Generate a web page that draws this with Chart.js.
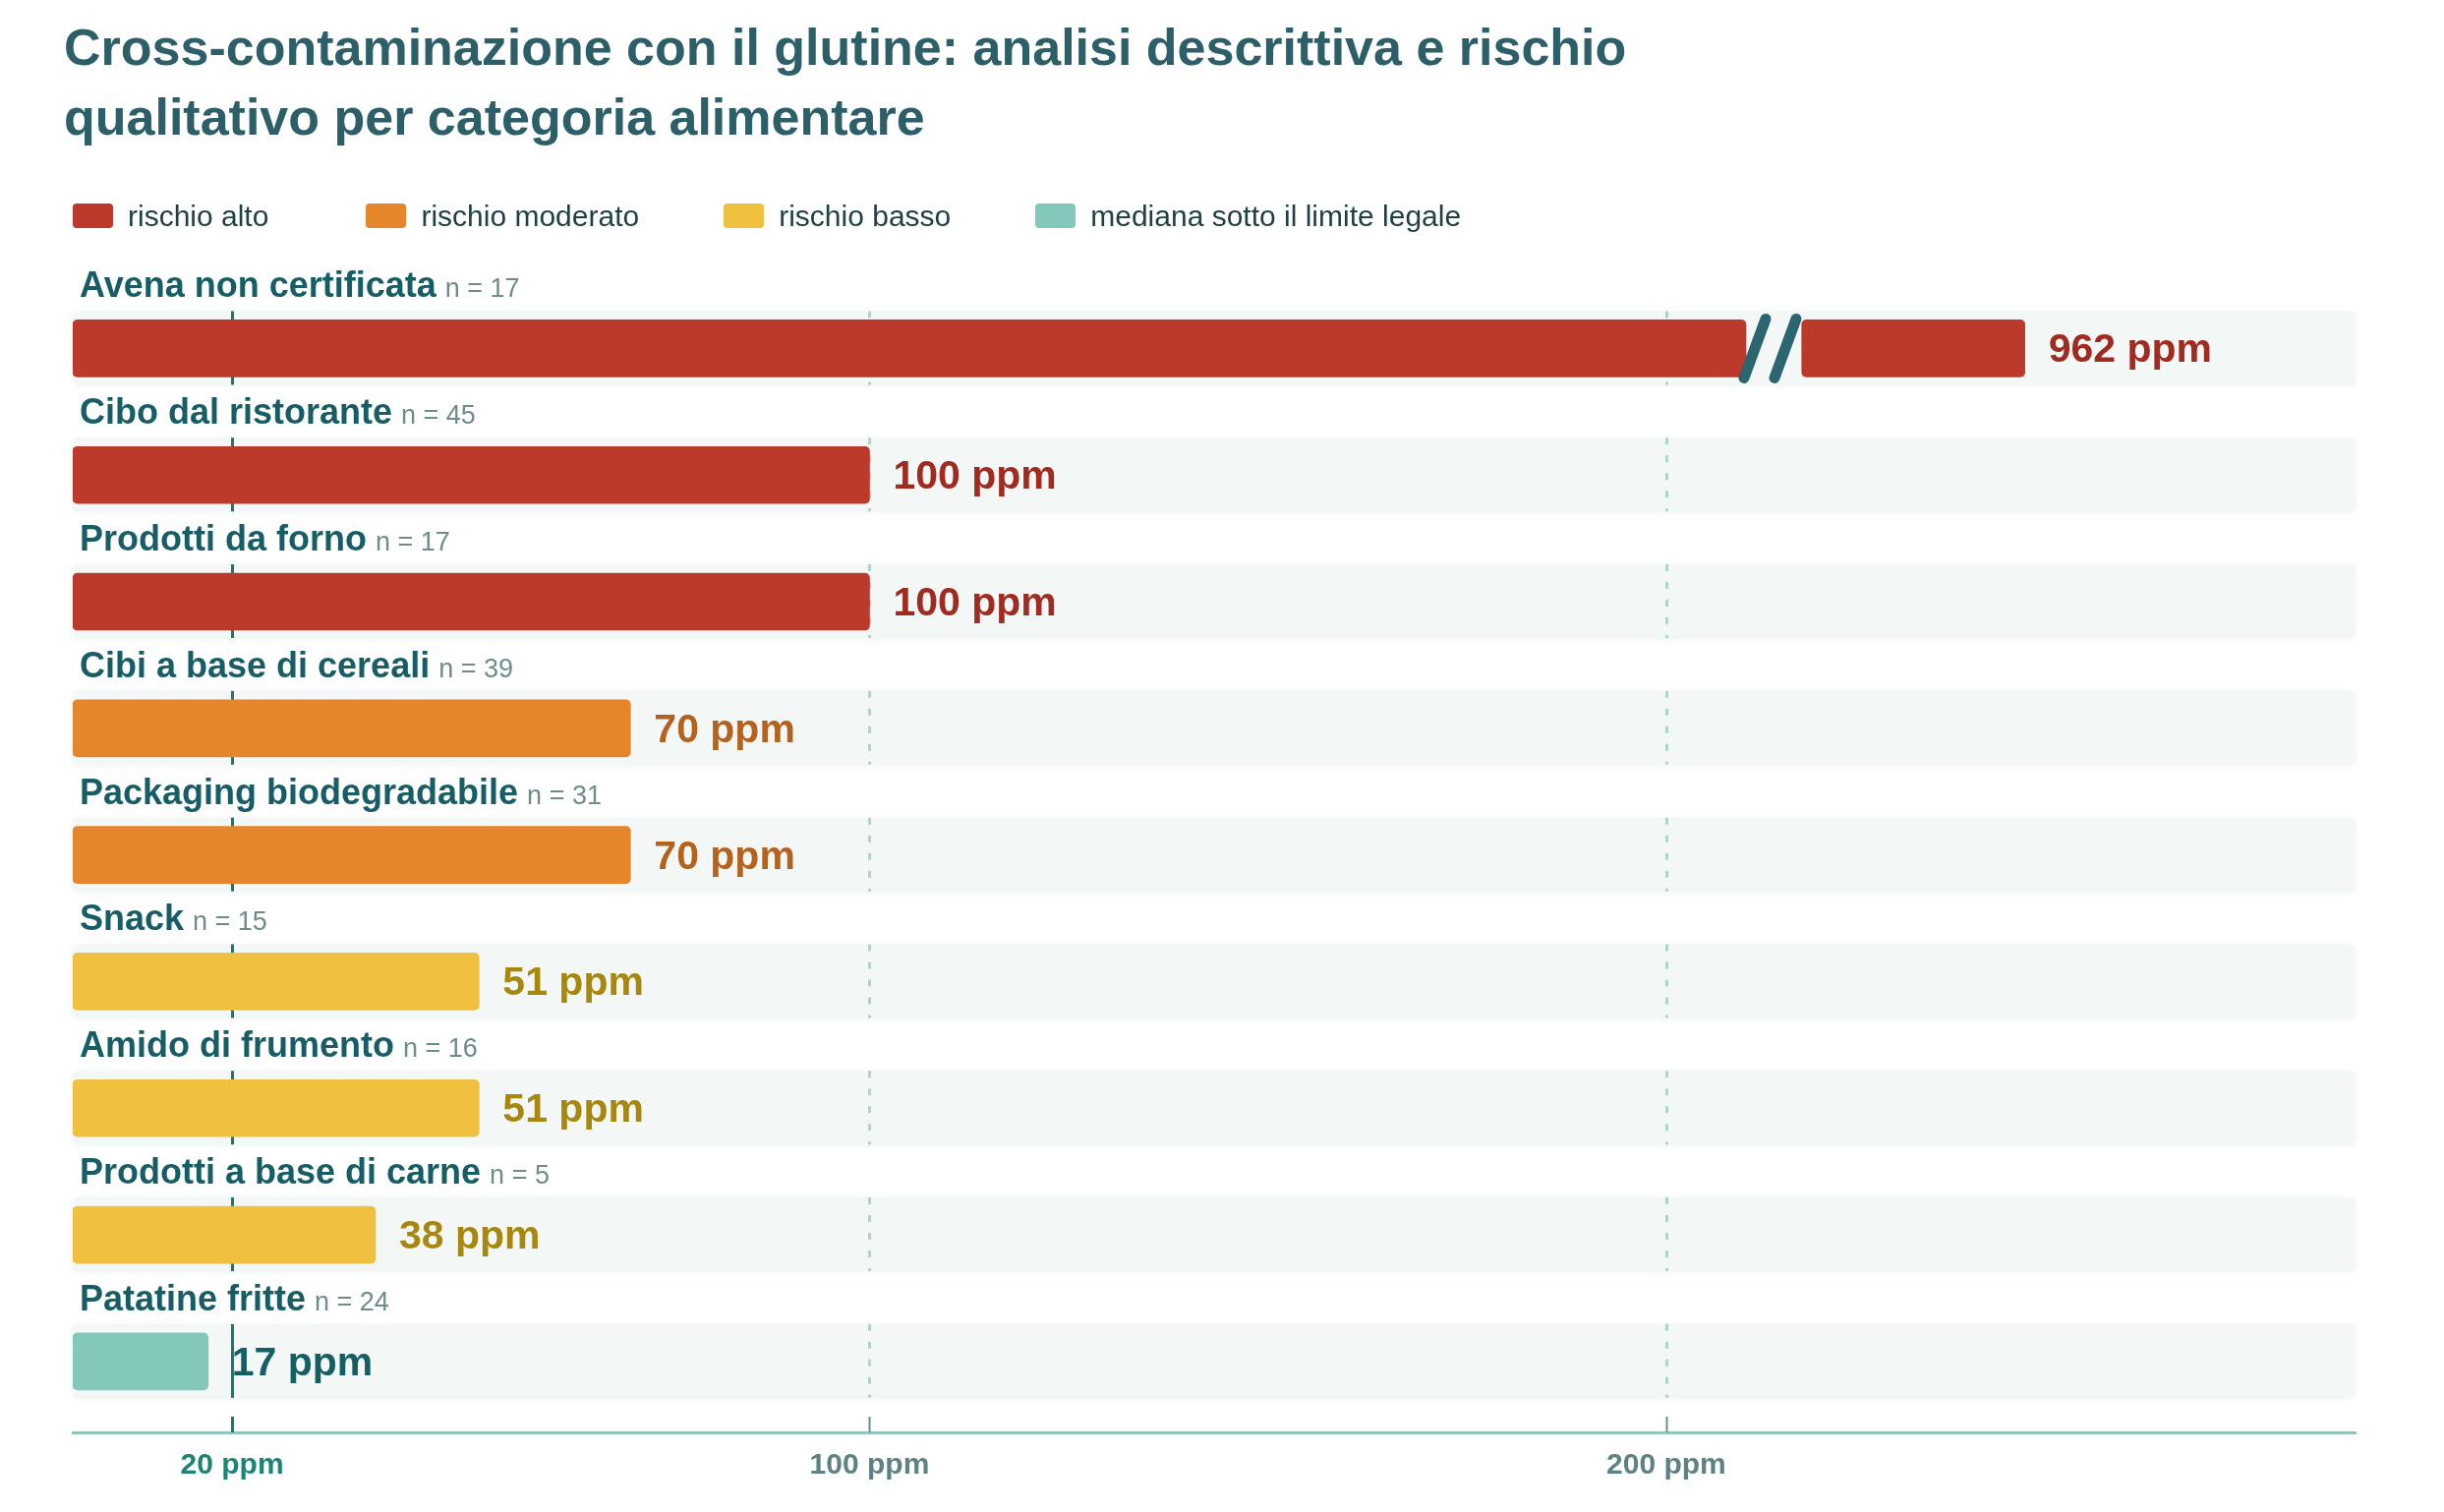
<!DOCTYPE html>
<html lang="it">
<head>
<meta charset="utf-8">
<title>Cross-contaminazione con il glutine</title>
<script src="https://cdn.jsdelivr.net/npm/chart.js@4.4.1/dist/chart.umd.min.js"></script>
<style>
    html, body {
        margin: 0;
        padding: 0;
        background: #ffffff;
    }
    body {
        width: 2486px;
        height: 1538px;
        position: relative;
        overflow: hidden;
        font-family: "Liberation Sans", Arial, sans-serif;
    }
    #title {
        position: absolute;
        left: 65px;
        top: 13px;
        margin: 0;
        font-size: 52px;
        line-height: 71px;
        font-weight: bold;
        color: #2d5f69;
        z-index: 2;
    }
    #legend {
        position: absolute;
        left: 74px;
        top: 207px;
        display: flex;
        align-items: center;
        z-index: 2;
    }
    .legend-item {
        display: flex;
        align-items: center;
        margin-right: 86px;
    }
    .legend-item:first-child {
        margin-right: 99px;
    }
    .legend-box {
        width: 41px;
        height: 25px;
        border-radius: 4px;
        margin-right: 15px;
    }
    .legend-text {
        font-size: 30px;
        line-height: 25px;
        color: #1f4047;
    }
    #chart {
        position: absolute;
        left: 0;
        top: 0;
    }
</style>
</head>
<body>
<h1 id="title">Cross-contaminazione con il glutine: analisi descrittiva e rischio<br>qualitativo per categoria alimentare</h1>
<div id="legend"></div>
<canvas id="chart" width="2486" height="1538"></canvas>

<script>
// dati
const categories = [
    'Avena non certificata',
    'Cibo dal ristorante',
    'Prodotti da forno',
    'Cibi a base di cereali',
    'Packaging biodegradabile',
    'Snack',
    'Amido di frumento',
    'Prodotti a base di carne',
    'Patatine fritte'
];
const sampleSizes = [17, 45, 17, 39, 31, 15, 16, 5, 24];
const medianPpm = [962, 100, 100, 70, 70, 51, 51, 38, 17];
const riskLevel = [0, 0, 0, 1, 1, 2, 2, 2, 3];

const riskLabels = ['rischio alto', 'rischio moderato', 'rischio basso', 'mediana sotto il limite legale'];
const riskColors = ['#bc3a2c', '#e5862c', '#efc13f', '#84c7bb'];
const riskTextColors = ['#9f2b21', '#b5621f', '#a8870f', '#135f64'];

const xTicks = [20, 100, 200];
const LEGAL_LIMIT = 20;

// asse interrotto: i valori oltre il massimo vengono disegnati con una barra spezzata
const AXIS_MAX = 286.5;
const BREAK_FROM = 210;
const BREAK_TO = 217;
const BREAK_BAR_END = 245;

// legenda
const legend = document.getElementById('legend');
riskLabels.forEach(function (label, i) {
    const item = document.createElement('div');
    item.className = 'legend-item';
    const box = document.createElement('span');
    box.className = 'legend-box';
    box.style.background = riskColors[i];
    const text = document.createElement('span');
    text.className = 'legend-text';
    text.textContent = label;
    item.appendChild(box);
    item.appendChild(text);
    legend.appendChild(item);
});

function isBroken(v) {
    return v > AXIS_MAX;
}

function drawnEnd(v) {
    return isBroken(v) ? BREAK_BAR_END : v;
}

const mainBars = medianPpm.map(function (v, i) {
    return {y: i, x: [0, isBroken(v) ? BREAK_FROM : v]};
});
const tailBars = medianPpm.flatMap(function (v, i) {
    return isBroken(v) ? [{y: i, x: [BREAK_TO, BREAK_BAR_END]}] : [];
});

function barColor(ctx) {
    return riskColors[riskLevel[ctx.raw.y]];
}

// fasce di sfondo + griglia dentro le fasce
const bandsPlugin = {
    id: 'bands',
    beforeDatasetsDraw(chart) {
        const {ctx, chartArea, scales: {x, y}} = chart;
        ctx.save();
        categories.forEach(function (c, i) {
            const cy = y.getPixelForValue(i);
            const top = cy - 38;
            const h = 75;

            ctx.save();
            ctx.shadowColor = 'rgba(40, 80, 80, 0.07)';
            ctx.shadowBlur = 6;
            ctx.shadowOffsetY = 1;
            ctx.fillStyle = '#f3f8f7';
            ctx.beginPath();
            ctx.roundRect(chartArea.left, top, chartArea.right - chartArea.left, h, 6);
            ctx.fill();
            ctx.restore();

            xTicks.forEach(function (t) {
                const px = Math.round(x.getPixelForValue(t)) + 0.5;
                ctx.beginPath();
                if (t === LEGAL_LIMIT) {
                    ctx.setLineDash([]);
                    ctx.strokeStyle = '#167a71';
                    ctx.lineWidth = 3;
                } else {
                    ctx.setLineDash([7, 11]);
                    ctx.strokeStyle = '#aed5cb';
                    ctx.lineWidth = 3;
                }
                ctx.moveTo(px, top);
                ctx.lineTo(px, top + h);
                ctx.stroke();
            });
        });

        // tacche sopra l'asse
        ctx.setLineDash([]);
        xTicks.forEach(function (t) {
            const px = Math.round(x.getPixelForValue(t)) + 0.5;
            ctx.beginPath();
            ctx.strokeStyle = t === LEGAL_LIMIT ? '#167a71' : '#6b8c8f';
            ctx.lineWidth = t === LEGAL_LIMIT ? 3 : 2;
            ctx.moveTo(px, chartArea.bottom - 16);
            ctx.lineTo(px, chartArea.bottom);
            ctx.stroke();
        });
        ctx.restore();
    }
};

// etichette di categoria, valori e segno di interruzione
const labelsPlugin = {
    id: 'rowLabels',
    afterDatasetsDraw(chart) {
        const {ctx, chartArea, scales: {x, y}} = chart;
        ctx.save();
        categories.forEach(function (c, i) {
            const cy = y.getPixelForValue(i);

            // nome categoria + n
            ctx.textBaseline = 'alphabetic';
            ctx.textAlign = 'left';
            ctx.font = 'bold 36px "Liberation Sans", Arial, sans-serif';
            ctx.fillStyle = '#175d65';
            ctx.fillText(c, chartArea.left + 7, cy - 52);
            const w = ctx.measureText(c).width;
            ctx.font = '27px "Liberation Sans", Arial, sans-serif';
            ctx.fillStyle = '#6f8b8c';
            ctx.fillText('n = ' + sampleSizes[i], chartArea.left + 7 + w + 9, cy - 52);

            // valore
            const v = medianPpm[i];
            ctx.font = 'bold 41px "Liberation Sans", Arial, sans-serif';
            ctx.fillStyle = riskTextColors[riskLevel[i]];
            ctx.fillText(v + ' ppm', x.getPixelForValue(drawnEnd(v)) + 24, cy + 14);

            // interruzione
            if (isBroken(v)) {
                const x0 = x.getPixelForValue(BREAK_FROM);
                ctx.strokeStyle = '#2b6570';
                ctx.lineWidth = 11;
                ctx.lineCap = 'round';
                [9, 40].forEach(function (off) {
                    ctx.beginPath();
                    ctx.moveTo(x0 + off - 11, cy + 30);
                    ctx.lineTo(x0 + off + 11, cy - 30);
                    ctx.stroke();
                });
            }
        });
        ctx.restore();
    }
};

const chart = new Chart(document.getElementById('chart'), {
    type: 'bar',
    data: {
        labels: categories,
        datasets: [
            {
                label: 'mediana',
                data: mainBars,
                backgroundColor: barColor,
                borderRadius: 5,
                borderSkipped: false,
                barThickness: 58,
                grouped: false
            },
            {
                label: 'mediana (oltre interruzione)',
                data: tailBars,
                backgroundColor: barColor,
                borderRadius: 5,
                borderSkipped: false,
                barThickness: 58,
                grouped: false
            }
        ]
    },
    options: {
        indexAxis: 'y',
        responsive: false,
        animation: false,
        devicePixelRatio: 1,
        layout: {
            padding: {top: 238.5, left: 74, right: 90, bottom: 13}
        },
        plugins: {
            legend: {display: false},
            tooltip: {enabled: false}
        },
        scales: {
            y: {
                type: 'linear',
                min: -0.9,
                max: 8.56,
                reverse: true,
                offset: false,
                display: false
            },
            x: {
                type: 'linear',
                position: 'bottom',
                min: 0,
                max: AXIS_MAX,
                offset: false,
                afterBuildTicks: function (scale) {
                    scale.ticks = xTicks.map(function (v) { return {value: v}; });
                },
                grid: {display: false, drawTicks: false},
                border: {display: true, color: '#8fc6b9', width: 3},
                ticks: {
                    padding: 16,
                    font: {family: '"Liberation Sans", Arial, sans-serif', size: 30, weight: 'bold'},
                    color: function (ctx) {
                        return ctx.tick && ctx.tick.value === LEGAL_LIMIT ? '#1b8475' : '#5e8184';
                    },
                    callback: function (value) {
                        return value + ' ppm';
                    }
                }
            }
        }
    },
    plugins: [bandsPlugin, labelsPlugin]
});
</script>
</body>
</html>
